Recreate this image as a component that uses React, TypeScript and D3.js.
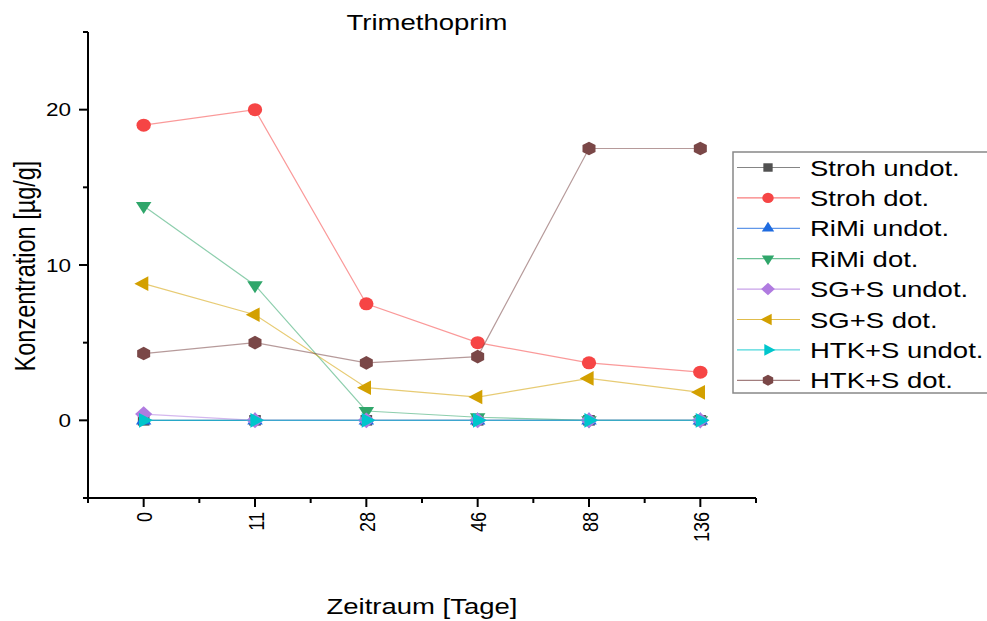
import * as d3 from 'd3';

const days = ['0', '11', '28', '46', '88', '136'];
const seriesNames = [
    'Stroh undot.', 'Stroh dot.', 'RiMi undot.', 'RiMi dot.',
    'SG+S undot.', 'SG+S dot.', 'HTK+S undot.', 'HTK+S dot.',
];
const strohUndot = [0, 0, 0, 0, 0, 0];
const strohDot = [19.0, 20.0, 7.5, 5.0, 3.7, 3.1];
const rimiUndot = [0, 0, 0, 0, 0, 0];
const rimiDot = [13.8, 8.7, 0.6, 0.2, 0, 0];
const sgUndot = [0.4, 0, 0, 0, 0, 0];
const sgDot = [8.8, 6.8, 2.1, 1.5, 2.7, 1.8];
const htkUndot = [0, 0, 0, 0, 0, 0];
const htkDot = [4.3, 5.0, 3.7, 4.1, 17.5, 17.5];
const yMajor = [0, 10, 20];
const yMinor = [-5, 5, 15, 25];

const colors = ['#515151', '#F64545', '#1E6BE0', '#2FA66A', '#B07BE0', '#D3A000', '#00C6CC', '#7A4747'];
const shapes = ['square', 'circle', 'up', 'down', 'diamond', 'left', 'right', 'hexagon'];
const values = [strohUndot, strohDot, rimiUndot, rimiDot, sgUndot, sgDot, htkUndot, htkDot];

const W = 987;
const H = 621;
const margin = { top: 32, right: 231, bottom: 123, left: 88 };
const SX = 1.25; // horizontal stretch of the source picture

function polygon(n: number, r: number, start: number) {
    const pts: [number, number][] = d3.range(n).map(i => {
        const a = start + (i * 2 * Math.PI) / n;
        return [r * Math.cos(a), r * Math.sin(a)];
    });
    return 'M' + pts.map(p => p.join(',')).join('L') + 'Z';
}

function markerPath(shape: string, r: number) {
    switch (shape) {
        case 'square': return polygon(4, r * 1.15, Math.PI / 4);
        case 'circle': return d3.symbol(d3.symbolCircle, Math.PI * r * r)()!;
        case 'up': return polygon(3, r * 1.25, -Math.PI / 2);
        case 'down': return polygon(3, r * 1.25, Math.PI / 2);
        case 'diamond': return polygon(4, r * 1.2, 0);
        case 'left': return polygon(3, r * 1.3, Math.PI);
        case 'right': return polygon(3, r * 1.3, 0);
        default: return polygon(6, r * 1.05, -Math.PI / 2);
    }
}

export default function App() {
    const x = d3.scaleLinear()
        .domain([-0.5, days.length - 0.5])
        .range([margin.left, W - margin.right]);
    const y = d3.scaleLinear()
        .domain([-5, 25])
        .range([H - margin.bottom, margin.top]);

    const line = d3.line<number>()
        .x((_, i) => x(i))
        .y(d => y(d));

    const x0 = margin.left;
    const yb = H - margin.bottom;
    const xMinor = d3.range(-0.5, days.length, 1);
    const font = 'Liberation Sans, Arial, sans-serif';

    const legX = 733;
    const legY0 = 167.5;
    const legStep = 30.4;

    return (
        <svg width={W} height={H} style={{ display: 'block', position: 'absolute', left: 0, top: 0 }} fontFamily={font}>
            <rect width={W} height={H} fill="#fff" />
            <text transform={`translate(${(x0 + W - margin.right) / 2 + 5},30) scale(${SX},1)`} textAnchor="middle" fontSize={22}>Trimethoprim</text>

            {/* series */}
            {values.map((vals, s) => (
                <g key={seriesNames[s]}>
                    <path d={line(vals)!} fill="none" stroke={colors[s]} strokeOpacity={0.55} strokeWidth={1.2} />
                    {vals.map((v, i) => (
                        <path key={i} d={markerPath(shapes[s], 6.5)}
                            transform={`translate(${x(i)},${y(v)}) scale(1.1,1)`} fill={colors[s]} />
                    ))}
                </g>
            ))}

            {/* y axis */}
            <line x1={x0} x2={x0} y1={margin.top} y2={yb} stroke="#000" strokeWidth={2} />
            {yMajor.map(t => (
                <g key={t}>
                    <line x1={x0 - 9} x2={x0} y1={y(t)} y2={y(t)} stroke="#000" strokeWidth={2} />
                    <text transform={`translate(${x0 - 17},${y(t) + 6.5}) scale(${SX},1)`} textAnchor="end" fontSize={18}>{t}</text>
                </g>
            ))}
            {yMinor.map(t => (
                <line key={t} x1={x0 - 5} x2={x0} y1={y(t)} y2={y(t)} stroke="#000" strokeWidth={2} />
            ))}
            <text transform={`translate(34.5,266) scale(${SX},1) rotate(-90)`} textAnchor="middle" fontSize={23.5}>Konzentration [µg/g]</text>

            {/* x axis */}
            <line x1={x0} x2={W - margin.right} y1={yb} y2={yb} stroke="#000" strokeWidth={2} />
            {days.map((d, i) => (
                <g key={d}>
                    <line x1={x(i)} x2={x(i)} y1={yb} y2={yb + 9} stroke="#000" strokeWidth={2} />
                    <text transform={`translate(${x(i) + 1},${yb + 14}) scale(${SX},1) rotate(-90)`}
                        textAnchor="end" dominantBaseline="central" fontSize={18}>{d}</text>
                </g>
            ))}
            {xMinor.map(t => (
                <line key={t} x1={x(t)} x2={x(t)} y1={yb} y2={yb + 5} stroke="#000" strokeWidth={2} />
            ))}
            <text transform={`translate(${(x0 + W - margin.right) / 2},614) scale(${SX},1)`} textAnchor="middle" fontSize={22}>Zeitraum [Tage]</text>

            {/* legend */}
            <rect x={legX} y={152} width={300} height={241} fill="#fff" stroke="#888" strokeWidth={1.5} />
            {seriesNames.map((name, s) => {
                const ly = legY0 + s * legStep;
                return (
                    <g key={name}>
                        <line x1={legX + 4} x2={legX + 67} y1={ly} y2={ly} stroke={colors[s]} strokeOpacity={0.7} strokeWidth={1.2} />
                        <path d={markerPath(shapes[s], 5.2)} transform={`translate(${legX + 35},${ly}) scale(1.1,1)`} fill={colors[s]} />
                        <text transform={`translate(${legX + 77},${ly + 8}) scale(${SX},1)`} fontSize={22}>{name}</text>
                    </g>
                );
            })}
        </svg>
    );
}
